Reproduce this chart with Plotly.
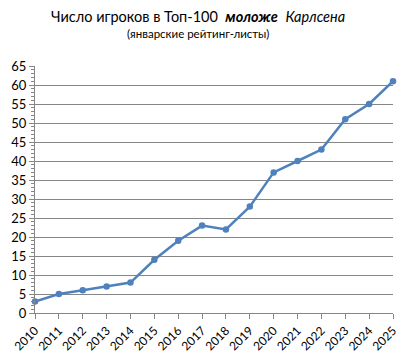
import plotly.graph_objects as go

years = [str(y) for y in range(2010, 2026)]
players = [3, 5, 6, 7, 8, 14, 19, 23, 22, 28, 37, 40, 43, 51, 55, 61]

title_main = "Число игроков в Топ-100  <b><i>моложе</i></b>  <i>Карлсена</i>"
title_sub = "(январские рейтинг-листы)"

FONT = "Lato, 'Open Sans', sans-serif"
GRID = "#868686"
BLUE = "#4F81BD"

fig = go.Figure()
fig.add_trace(go.Scatter(
    x=years, y=players, mode="lines+markers",
    line=dict(color=BLUE, width=2.5),
    marker=dict(color=BLUE, size=6.5, symbol="circle"),
    cliponaxis=False, showlegend=False,
))

fig.update_layout(
    width=410, height=351,
    margin=dict(l=27, r=25, t=58, b=46, autoexpand=False),
    paper_bgcolor="white", plot_bgcolor="white",
    font=dict(family=FONT, size=13, color="#000000"),
    annotations=[
        dict(text=title_main, xref="paper", yref="paper", x=0.455, y=1.0,
             yanchor="middle", xanchor="center",
             yshift=50, showarrow=False, font=dict(family=FONT, size=14.5, color="#000")),
        dict(text=title_sub, xref="paper", yref="paper", x=0.455, y=1.0,
             yanchor="middle", xanchor="center",
             yshift=33, showarrow=False, font=dict(family=FONT, size=11.5, color="#000")),
    ],
)

fig.update_xaxes(
    type="category", range=[0, 15], automargin=False,
    showline=True, linecolor=GRID, linewidth=1,
    ticks="outside", ticklen=5, tickcolor=GRID,
    showgrid=False, tickangle=-45, zeroline=False,
    tickfont=dict(size=12),
)
fig.update_yaxes(
    range=[0, 65], dtick=5, automargin=False,
    showline=True, linecolor=GRID, linewidth=1,
    ticks="outside", ticklen=5, tickcolor=GRID,
    showgrid=True, gridcolor=GRID, gridwidth=1, zeroline=False,
    minor=dict(dtick=1, ticks="outside", ticklen=3, tickcolor=GRID, showgrid=False),
    tickfont=dict(size=13),
)

fig.write_html("out.html")
